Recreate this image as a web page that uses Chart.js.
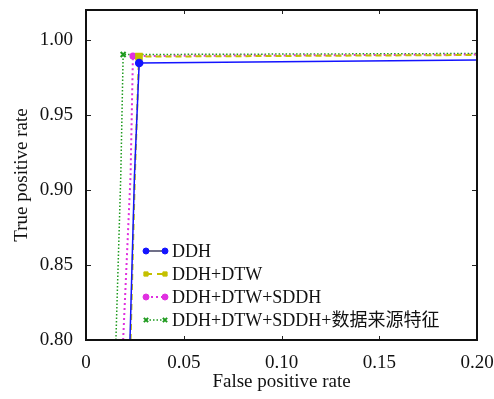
<!DOCTYPE html>
<html>
<head>
<meta charset="utf-8">
<script src="https://cdn.jsdelivr.net/npm/chart.js@4.4.0/dist/chart.umd.min.js"></script>
<style>
  html, body { margin: 0; padding: 0; background: #fff; }
  #wrap { width: 494px; height: 399px; }
</style>
</head>
<body>
<div id="wrap"><canvas id="roc"></canvas></div>
<script>
// series names
var seriesNames = ['DDH', 'DDH+DTW', 'DDH+DTW+SDDH', 'DDH+DTW+SDDH+数据来源特征'];

// ROC points (FPR, TPR)
var fprDDH = [0.0225, 0.0248, 0.0272, 0.20];
var tprDDH = [0.80, 0.91, 0.9847, 0.9867];

var fprDTW = [0.0228, 0.0250, 0.0271, 0.20];
var tprDTW = [0.80, 0.91, 0.9889, 0.9900];

var fprSDDH = [0.0190, 0.0228, 0.0240, 0.20];
var tprSDDH = [0.80, 0.91, 0.9893, 0.9903];

var fprAll = [0.0153, 0.0178, 0.0190, 0.20];
var tprAll = [0.80, 0.91, 0.9903, 0.9910];

// index of the corner point that carries a marker
var markerIndex = 2;

var xTicks = [0, 0.05, 0.10, 0.15, 0.20];
var xTickLabels = ['0', '0.05', '0.10', '0.15', '0.20'];
var yTicks = [0.80, 0.85, 0.90, 0.95, 1.00];
var yTickLabels = ['0.80', '0.85', '0.90', '0.95', '1.00'];

var serif = "'Liberation Serif', serif";

function toPoints(xs, ys) {
    return xs.map(function (x, i) { return { x: x, y: ys[i] }; });
}

function radii(n, r) {
    var out = [];
    for (var i = 0; i < n; i++) out.push(i === markerIndex ? r : 0);
    return out;
}

var datasets = [
    {
        label: seriesNames[0],
        data: toPoints(fprDDH, tprDDH),
        borderColor: '#1414ff',
        backgroundColor: '#1414ff',
        borderWidth: 1.5,
        pointStyle: 'circle',
        pointRadius: radii(fprDDH.length, 3.5),
        legendLine: '#404060',
        legendDash: []
    },
    {
        label: seriesNames[1],
        data: toPoints(fprDTW, tprDTW),
        borderColor: '#c4c000',
        backgroundColor: '#c4c000',
        borderWidth: 2,
        borderDash: [6, 4],
        pointStyle: 'rect',
        pointRadius: radii(fprDTW.length, 4),
        legendLine: '#c4c000',
        legendDash: [6, 5]
    },
    {
        label: seriesNames[2],
        data: toPoints(fprSDDH, tprSDDH),
        borderColor: '#e030e0',
        backgroundColor: '#e030e0',
        borderWidth: 2,
        borderDash: [2, 3],
        pointStyle: 'circle',
        pointRadius: radii(fprSDDH.length, 2.5),
        legendLine: '#e030e0',
        legendDash: [2, 3]
    },
    {
        label: seriesNames[3],
        data: toPoints(fprAll, tprAll),
        borderColor: '#1e9a1e',
        backgroundColor: '#1e9a1e',
        borderWidth: 1.5,
        borderDash: [1.5, 2],
        pointStyle: 'crossRot',
        pointRadius: radii(fprAll.length, 3.5),
        pointBorderWidth: 2,
        legendLine: '#1e9a1e',
        legendDash: [1.5, 2]
    }
];

// frame with inward ticks on all four sides
var framePlugin = {
    id: 'frame',
    afterDatasetsDraw: function (chart) {
        var ctx = chart.ctx, a = chart.chartArea;
        var xs = chart.scales.x, ys = chart.scales.y;
        ctx.save();
        ctx.strokeStyle = '#222';
        ctx.lineWidth = 1;
        xTicks.forEach(function (v) {
            var px = Math.round(xs.getPixelForValue(v)) + 0.5;
            ctx.beginPath();
            ctx.moveTo(px, a.bottom); ctx.lineTo(px, a.bottom - 4);
            ctx.moveTo(px, a.top); ctx.lineTo(px, a.top + 4);
            ctx.stroke();
        });
        yTicks.forEach(function (v) {
            var py = Math.round(ys.getPixelForValue(v)) + 0.5;
            ctx.beginPath();
            ctx.moveTo(a.left, py); ctx.lineTo(a.left + 5, py);
            ctx.moveTo(a.right, py); ctx.lineTo(a.right - 5, py);
            ctx.stroke();
        });
        ctx.lineWidth = 2;
        ctx.strokeStyle = '#111';
        ctx.strokeRect(a.left, a.top, a.right - a.left, a.bottom - a.top);
        ctx.restore();
    }
};

// gnuplot-like key: line sample with a marker at each end
var keyPlugin = {
    id: 'key',
    afterDraw: function (chart) {
        var ctx = chart.ctx;
        var rowY = [251, 274, 297, 320];
        var x0 = 146, x1 = 165, textX = 172;
        ctx.save();
        chart.data.datasets.forEach(function (ds, i) {
            var y = rowY[i];
            ctx.strokeStyle = ds.legendLine;
            ctx.lineWidth = ds.borderWidth;
            ctx.setLineDash(ds.legendDash);
            ctx.beginPath();
            ctx.moveTo(x0, y); ctx.lineTo(x1, y);
            ctx.stroke();
            ctx.setLineDash([]);
            var opts = {
                pointStyle: ds.pointStyle,
                radius: 3,
                borderWidth: ds.pointBorderWidth || 1,
                borderColor: ds.borderColor,
                backgroundColor: ds.backgroundColor
            };
            ctx.fillStyle = ds.backgroundColor;
            ctx.strokeStyle = ds.borderColor;
            ctx.lineWidth = opts.borderWidth;
            Chart.helpers.drawPoint(ctx, opts, x0, y);
            Chart.helpers.drawPoint(ctx, opts, x1, y);
            ctx.fillStyle = '#111';
            ctx.font = "18px 'Liberation Serif', 'Noto Sans CJK SC', serif";
            ctx.textBaseline = 'middle';
            ctx.fillText(ds.label, textX, y + 1);
        });
        ctx.restore();
    }
};

new Chart(document.getElementById('roc'), {
    type: 'line',
    data: { datasets: datasets },
    plugins: [framePlugin, keyPlugin],
    options: {
        responsive: true,
        maintainAspectRatio: false,
        animation: false,
        layout: { padding: { top: 10, right: 17, left: 0, bottom: 0 } },
        plugins: {
            legend: { display: false },
            tooltip: { enabled: false }
        },
        elements: { line: { tension: 0 } },
        scales: {
            x: {
                type: 'linear',
                min: 0,
                max: 0.20,
                grid: { display: false, drawTicks: false },
                border: { display: false },
                afterBuildTicks: function (s) {
                    s.ticks = xTicks.map(function (v) { return { value: v }; });
                },
                afterFit: function (s) {
                    s.height = 59;
                    s.paddingLeft = 0;
                    s.paddingRight = 0;
                },
                ticks: {
                    padding: 12,
                    maxRotation: 0,
                    color: '#111',
                    font: { family: serif, size: 19 },
                    callback: function (v, i) { return xTickLabels[i]; }
                },
                title: {
                    display: true,
                    text: 'False positive rate',
                    color: '#111',
                    font: { family: serif, size: 19 },
                    padding: { top: 4, bottom: 6 }
                }
            },
            y: {
                type: 'linear',
                min: 0.80,
                max: 1.02,
                grid: { display: false, drawTicks: false },
                border: { display: false },
                afterBuildTicks: function (s) {
                    s.ticks = yTicks.map(function (v) { return { value: v }; });
                },
                afterFit: function (s) {
                    s.width = 86;
                    s.paddingTop = 0;
                    s.paddingBottom = 0;
                },
                ticks: {
                    padding: 13,
                    color: '#111',
                    font: { family: serif, size: 19 },
                    callback: function (v, i) { return yTickLabels[i]; }
                },
                title: {
                    display: true,
                    text: 'True positive rate',
                    color: '#111',
                    font: { family: serif, size: 19 },
                    padding: { top: 11, bottom: 4 }
                }
            }
        }
    }
});
</script>
</body>
</html>
